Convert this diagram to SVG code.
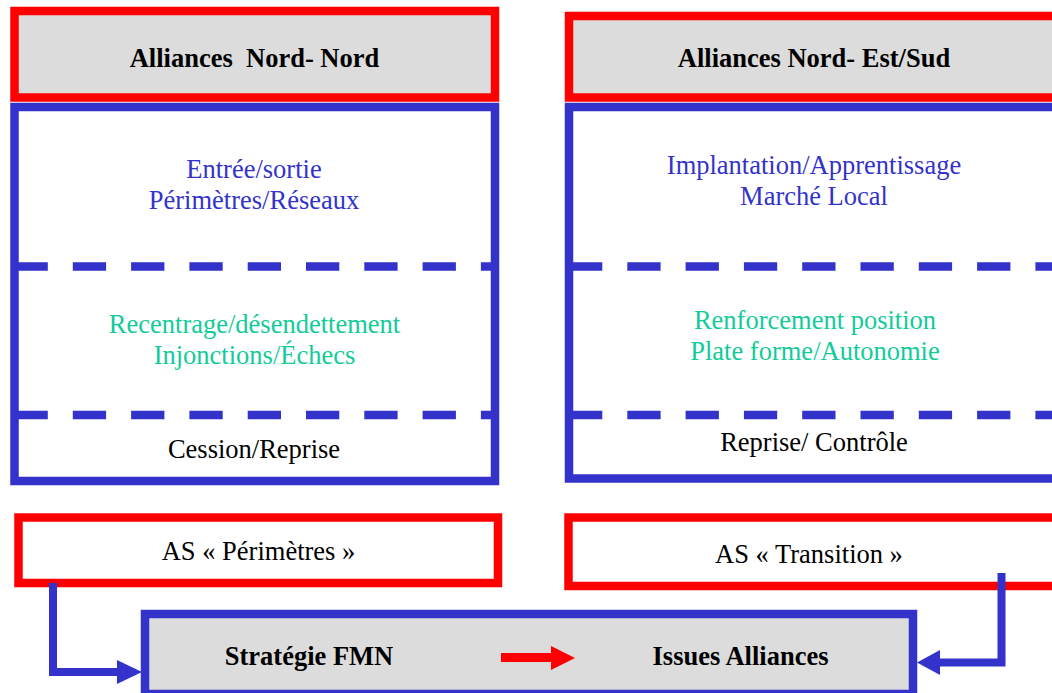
<svg xmlns="http://www.w3.org/2000/svg" width="1052" height="693" viewBox="0 0 1052 693">
  <style>
    .hdr { fill: #dcdcdc; stroke: #ff0000; stroke-width: 8.5; }
    .as { fill: #ffffff; stroke: #ff0000; stroke-width: 8.5; }
    .panel { fill: #ffffff; stroke: #3333cc; stroke-width: 8.5; }
    .base { fill: #dcdcdc; stroke: #3333cc; stroke-width: 8.5; }
    .sep { stroke: #3333cc; stroke-width: 8.5; stroke-dasharray: 33.3 25; fill: none; }
    text { font-family: "Liberation Serif", "Times New Roman", serif; font-size: 26.5px; text-anchor: middle; }
    .b { font-weight: bold; fill: #000000; }
    .blue { fill: #3333cc; }
    .green { fill: #11cc99; }
    .black { fill: #000000; }
    .link { fill: none; stroke: #3333cc; stroke-width: 8; stroke-linejoin: miter; }
    .head { fill: #3333cc; }
    .red { fill: #ff0000; }
  </style>

  <rect width="1052" height="693" fill="#ffffff"/>

  <!-- North-North column -->
  <g id="hdr-nord-nord">
    <rect class="hdr" x="14.5" y="11" width="480.5" height="86.5"/>
    <text class="b" x="254.5" y="66.5">Alliances&#160; Nord- Nord</text>
  </g>
  <g id="panel-nord-nord">
    <rect class="panel" x="14.5" y="107" width="480.5" height="374"/>
    <line class="sep" x1="14.5" y1="266.5" x2="495" y2="266.5"/>
    <line class="sep" x1="14.5" y1="415" x2="495" y2="415"/>
    <text class="blue" x="254" y="178">Entrée/sortie</text>
    <text class="blue" x="254" y="209">Périmètres/Réseaux</text>
    <text class="green" x="254.5" y="332.5">Recentrage/désendettement</text>
    <text class="green" x="254.5" y="363.5">Injonctions/Échecs</text>
    <text class="black" x="254" y="457.5">Cession/Reprise</text>
  </g>

  <!-- North-East/South column -->
  <g id="hdr-nord-est-sud">
    <rect class="hdr" x="569" y="16" width="490" height="81.5"/>
    <text class="b" x="814" y="67">Alliances Nord- Est/Sud</text>
  </g>
  <g id="panel-nord-est-sud">
    <rect class="panel" x="569" y="107" width="490" height="371.5"/>
    <line class="sep" x1="569" y1="266.5" x2="1059" y2="266.5"/>
    <line class="sep" x1="569" y1="415" x2="1059" y2="415"/>
    <text class="blue" x="814" y="174">Implantation/Apprentissage</text>
    <text class="blue" x="814" y="205">Marché Local</text>
    <text class="green" x="815" y="329">Renforcement position</text>
    <text class="green" x="815" y="359.5">Plate forme/Autonomie</text>
    <text class="black" x="814" y="451">Reprise/ Contrôle</text>
  </g>

  <!-- Strategic alliance types -->
  <g id="as-perimetres">
    <rect class="as" x="18.5" y="517.5" width="479.5" height="65.5"/>
    <text class="black" x="258.5" y="560">AS « Périmètres »</text>
  </g>
  <g id="as-transition">
    <rect class="as" x="568.5" y="517.5" width="490" height="68.5"/>
    <text class="black" x="809" y="563">AS « Transition »</text>
  </g>

  <!-- Strategy / outcome bar -->
  <g id="strategie-issues">
    <rect class="base" x="145" y="614" width="768" height="80"/>
    <text class="b" x="309" y="665">Stratégie FMN</text>
    <text class="b" x="740.5" y="665">Issues Alliances</text>
  </g>

  <!-- Connectors -->
  <g id="connectors">
    <polyline class="link" points="53,583 53,672 118,672"/>
    <polygon class="head" points="117,660 142,672 117,684"/>
    <polyline class="link" points="1001.5,573 1001.5,662.5 939,662.5"/>
    <polygon class="head" points="940,650 917,662.5 940,675"/>
    <rect class="red" x="501" y="653" width="51" height="9"/>
    <polygon class="red" points="551,646 575,658 551,670"/>
  </g>
</svg>
